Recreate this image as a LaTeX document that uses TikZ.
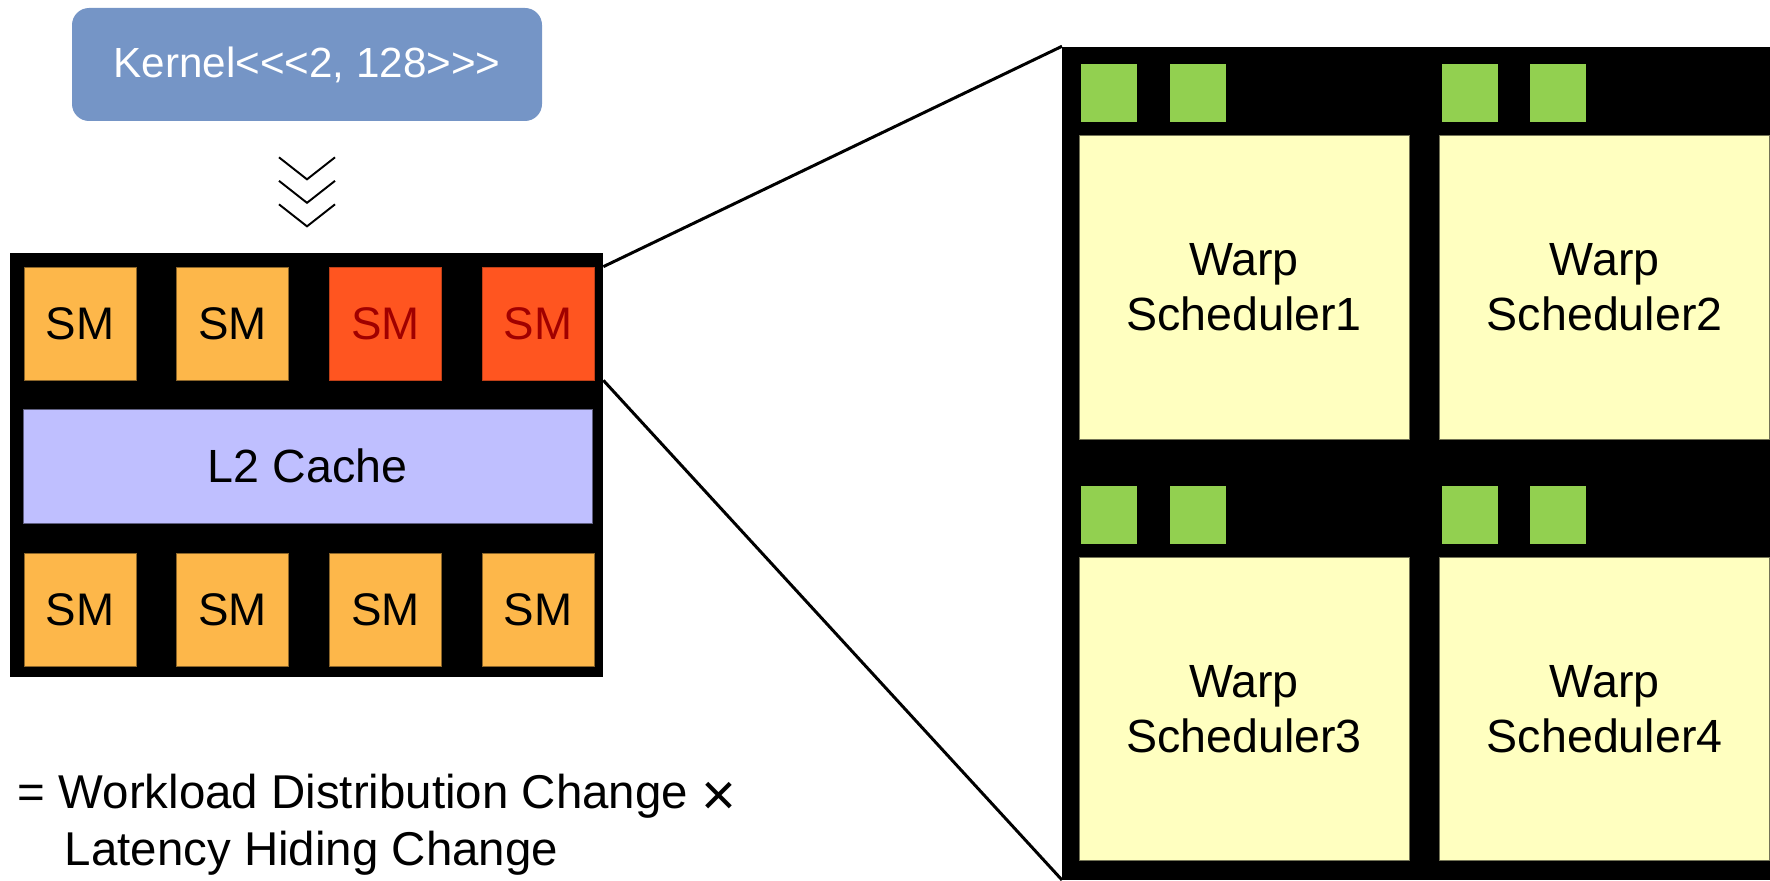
\documentclass[tikz,border=0pt]{standalone}
\usepackage{fontspec}
\setmainfont{Liberation Sans}
\usepackage{tikz}
\usetikzlibrary{positioning, calc}
\definecolor{KernelBlue}{HTML}{7595C6}
\definecolor{SmOrange}{HTML}{FDB74A}
\definecolor{SmRed}{HTML}{FF5520}
\definecolor{SmRedText}{HTML}{A00000}
\definecolor{CacheLilac}{HTML}{BFBFFF}
\definecolor{WarpYellow}{HTML}{FFFFC0}
\definecolor{RegGreen}{HTML}{92D050}
\tikzset{
  % Box styles
  kernelbox/.style={rectangle, rounded corners=9.7pt, fill=KernelBlue, text=white, minimum width=9.4cm, minimum height=2.26cm, font=\fontsize{24}{28}\selectfont},
  chipbox/.style={rectangle, fill=black, inner sep=0pt},
  smbox/.style={rectangle, draw=SmOrange!55!black, line width=0.4pt, fill=SmOrange, minimum width=2.24cm, minimum height=2.26cm, inner sep=0pt, font=\fontsize{26}{30}\selectfont},
  hotsmbox/.style={smbox, draw=SmRed!75!black, fill=SmRed, text=SmRedText},
  cachebox/.style={rectangle, draw=CacheLilac!50!black, line width=0.4pt, fill=CacheLilac, minimum width=11.38cm, minimum height=2.28cm, font=\fontsize{26.5}{30}\selectfont},
  warpbox/.style={rectangle, draw=WarpYellow!45!black, line width=0.4pt, fill=WarpYellow, minimum width=6.6cm, minimum height=6.07cm, align=center, font=\fontsize{26.5}{31.3}\selectfont},
  regbox/.style={rectangle, fill=RegGreen, minimum width=1.12cm, minimum height=1.16cm, inner sep=0pt},
  formula/.style={inner sep=0pt, font=\fontsize{27}{32}\selectfont},
  % Line styles
  zoomline/.style={line width=1.7pt},
  chevron/.style={line width=1.1pt}
}
% bigger multiplication sign
\newcommand{\bigtimes}{\raisebox{-4pt}{\fontsize{34}{32}\selectfont ×}}

\begin{document}
\begin{tikzpicture}
  \useasboundingbox (0,0) rectangle (35.4,17.6);

  % Kernel launch
  \node[kernelbox] (kernel) at (6.14,16.31) {Kernel<{}<{}<2, 128>{}>{}>};
  \foreach \i in {0,1,2}
    \draw[chevron] ($(kernel.south)+(-0.56,-0.72-0.47*\i)$) -- ++(0.56,-0.44) -- ++(0.56,0.44);

  % GPU with SMs and L2
  \node[chipbox, minimum width=11.86cm, minimum height=8.48cm] (gpu) at (6.13,8.3) {};
  \node[smbox] (sm1) at (1.6,11.13) {SM};
  \node[smbox, right=0.8cm of sm1] (sm2) {SM};
  \node[hotsmbox, right=0.8cm of sm2] (sm3) {SM};
  \node[hotsmbox, right=0.8cm of sm3] (sm4) {SM};
  \node[cachebox] (l2) at (6.15,8.28) {L2 Cache};
  \node[smbox] (sm5) at (1.6,5.41) {SM};
  \node[smbox, right=0.8cm of sm5] (sm6) {SM};
  \node[smbox, right=0.8cm of sm6] (sm7) {SM};
  \node[smbox, right=0.8cm of sm7] (sm8) {SM};

  % Inside one SM
  \node[chipbox, anchor=south west, minimum width=14.16cm, minimum height=16.66cm] (smdetail) at (21.24,0) {};
  \node[warpbox] (ws1) at (24.88,11.85) {Warp\\Scheduler1};
  \node[warpbox, right=0.6cm of ws1] (ws2) {Warp\\Scheduler2};
  \node[warpbox] (ws3) at (24.88,3.42) {Warp\\Scheduler3};
  \node[warpbox, right=0.6cm of ws3] (ws4) {Warp\\Scheduler4};
  \foreach \w in {1,...,4} {
    \node[regbox, above right=0.26cm and 0.04cm of ws\w.north west] (reg\w-1) {};
    \node[regbox, right=0.64cm of reg\w-1] (reg\w-2) {};
  }

  % Zoom lines
  \draw[zoomline] (gpu.east |- sm4.north) -- (smdetail.north west);
  \draw[zoomline] (gpu.east |- sm4.south) -- (smdetail.south west);

  % Formula
  \node[formula, anchor=base west] (eqtop) at (0.35,1.44) {= Workload Distribution Change \bigtimes};
  \node[formula, anchor=base west] (eqbot) at (1.29,0.30) {Latency Hiding Change};
\end{tikzpicture}
\end{document}
